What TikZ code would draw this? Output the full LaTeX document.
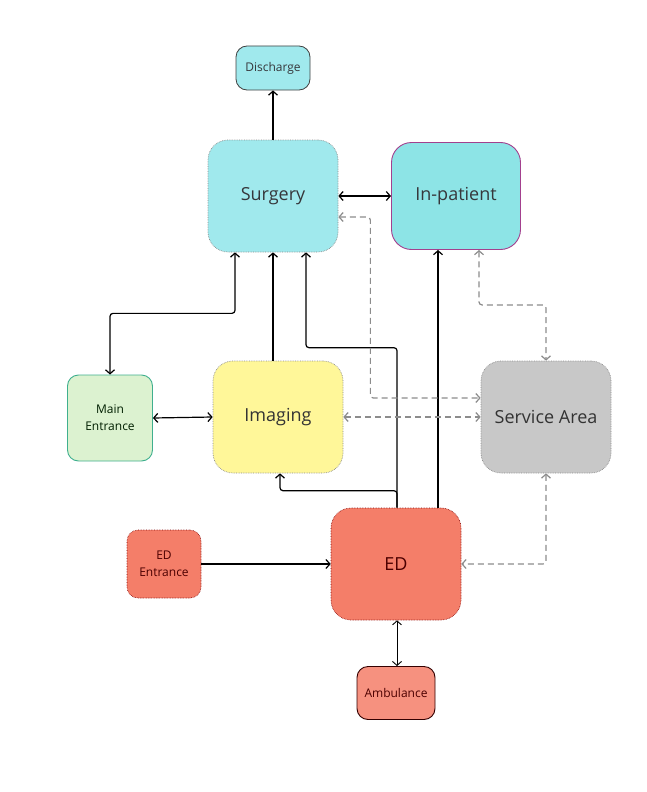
\documentclass[tikz,border=0pt]{standalone}
\usepackage{fontspec}
\setmainfont{Open Sans}
\usetikzlibrary{arrows.meta, positioning}
\definecolor{cyanfill}{HTML}{A0E9ED}
\definecolor{inpfill}{HTML}{8DE4E6}
\definecolor{inpline}{HTML}{A3408E}
\definecolor{greenfill}{HTML}{DCF2D0}
\definecolor{greenline}{HTML}{3FAF8E}
\definecolor{yellowfill}{HTML}{FFF799}
\definecolor{greyfill}{HTML}{C8C8C8}
\definecolor{redfill}{HTML}{F47E69}
\definecolor{ambfill}{HTML}{F6917F}
\definecolor{boxline}{HTML}{8A8A8A}
\definecolor{dashline}{HTML}{8C8C8C}
\tikzstyle{bigbox} = [rectangle, rounded corners=20pt, minimum width=130pt, minimum height=112pt, inner sep=0pt, text centered, font=\fontsize{18}{22}\selectfont]
\tikzstyle{smallbox} = [rectangle, rounded corners=11pt, inner sep=0pt, align=center, font=\fontsize{12}{17}\selectfont]
\tikzstyle{dotline} = [draw=boxline, densely dotted, line width=0.7pt]
\tikzstyle{arrow} = [line width=1.2pt, rounded corners=3pt, >={Straight Barb[length=4pt,width=9pt]}]
\tikzstyle{dasharrow} = [arrow, draw=dashline, dash pattern=on 6pt off 4pt]

\begin{document}
\begin{tikzpicture}[x=1pt, y=-1pt]
    \useasboundingbox (0,0) rectangle (646,792);
    % Nodes
    \node (discharge) [smallbox, fill=cyanfill, draw=black!75, line width=0.8pt, minimum width=74pt, minimum height=44pt, text=black!70!cyan!40!black] at (273,68) {Discharge};
    \node (surgery) [bigbox, fill=cyanfill, dotline, text=black!70!cyan!40!black] at (273,196) {Surgery};
    \node (inpatient) [bigbox, fill=inpfill, draw=inpline, line width=0.9pt, minimum width=129pt, minimum height=107pt, text=black!70!cyan!40!black] at (456,196) {In-patient};
    \node (mainent) [smallbox, fill=greenfill, draw=greenline, line width=0.9pt, minimum width=85pt, minimum height=86pt, text=black!60!green!30!black] at (110,418) {Main\\Entrance};
    \node (imaging) [bigbox, fill=yellowfill, dotline, text=black!80] at (278,417) {Imaging};
    \node (service) [bigbox, fill=greyfill, dotline, text=black!80] at (546,417) {Service Area};
    \node (edent) [smallbox, fill=redfill, draw=red!50!black, densely dotted, line width=0.6pt, minimum width=74pt, minimum height=68pt, text=red!30!black] at (164,564) {ED\\Entrance};
    \node (ed) [bigbox, fill=redfill, draw=red!50!black, densely dotted, line width=0.6pt, text=red!30!black] at (396,564) {ED};
    \node (amb) [smallbox, fill=ambfill, draw=red!20!black, line width=0.9pt, minimum width=78pt, minimum height=53pt, text=red!30!black] at (396,693) {Ambulance};

    % Arrows
    \draw [arrow, ->] (surgery.north) -- (discharge.south);
    \draw [arrow, <->] (surgery.east) -- (inpatient.west);
    \draw [arrow, <->] ([xshift=-38pt]surgery.south) -- ++(0,-61pt) -| (mainent.north);
    \draw [arrow, <->] (mainent.east) -- (imaging.west);
    \draw [arrow, ->] ([xshift=-5pt]imaging.north) -- (surgery.south);
    \draw [arrow, ->] ([xshift=1pt]ed.north) -- ++(0,160pt) -| ([xshift=33pt]surgery.south);
    \draw [arrow, ->] ([xshift=1pt]ed.north) -- ++(0,17pt) -| ([xshift=2pt]imaging.south);
    \draw [arrow, ->] ([xshift=42pt]ed.north) -- ([xshift=-18pt]inpatient.south);
    \draw [arrow, ->] (edent.east) -- (ed.west);
    \draw [arrow, <->, line width=0.9pt] ([xshift=1pt]ed.south) -- ([xshift=1pt]amb.north);

    % Service links
    \draw [dasharrow, <->] ([yshift=-21pt]surgery.east) -- ++(32pt,0) |- ([yshift=19pt]service.west);
    \draw [dasharrow, <->] (imaging.east) -- (service.west);
    \draw [dasharrow, <->] ([xshift=23pt]inpatient.south) -- ++(0,-55pt) -| (service.north);
    \draw [dasharrow, <->] (service.south) |- (ed.east);
\end{tikzpicture}
\end{document}
